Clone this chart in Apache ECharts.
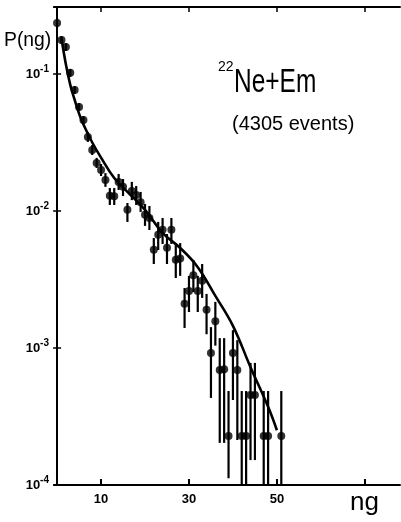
<!DOCTYPE html>
<html><head><meta charset="utf-8">
<script src="https://cdn.jsdelivr.net/npm/echarts@6/dist/echarts.min.js"></script>
<style>html,body{margin:0;padding:0;background:#fff}#c{width:401px;height:522px}</style>
</head><body><div id="c"></div>
<script>
// multiplicity n_g of each measured bin
const ng = [0,1,2,3,4,5,6,7,8,9,10,11,12,13,14,15,16,17,18,19,20,21,22,23,24,25,26,27,28,29,30,31,32,33,34,35,36,37,38,39,40,41,42,43,44,45,47,48,51];
// measured probability P(n_g)
const prob = [0.235,0.177,0.157,0.102,0.0764,0.0574,0.0461,0.0347,0.0279,0.0224,0.0199,0.0168,0.0129,0.0128,0.0163,0.0150,0.0102,0.0140,0.0131,0.0116,0.0094,0.0089,0.0052,0.0067,0.0073,0.0054,0.0073,0.0044,0.0045,0.0021,0.0026,0.0034,0.0026,0.0031,0.0019,0.00092,0.00157,0.00069,0.00070,0.000228,0.00092,0.00069,0.000228,0.000228,0.000454,0.000454,0.000228,0.000228,0.000228];
// upper end of each error bar
const errHigh = [0.2565,0.189,0.168,0.1087,0.0817,0.0614,0.0493,0.0377,0.0303,0.0244,0.0220,0.0189,0.0147,0.0147,0.0186,0.0171,0.01143,0.0163,0.0152,0.01377,0.01125,0.01087,0.00635,0.00832,0.00889,0.00679,0.00889,0.00565,0.00583,0.00274,0.00336,0.00439,0.00336,0.00410,0.00248,0.00142,0.00217,0.00118,0.00118,0.000485,0.00135,0.00114,0.000485,0.000485,0.000778,0.000778,0.000485,0.000485,0.000485];
// lower end of each error bar
const errLow = [0.2168,0.1656,0.147,0.0951,0.0714,0.0537,0.0425,0.0319,0.0256,0.0206,0.0180,0.0150,0.01106,0.01106,0.01422,0.01286,0.00832,0.0120,0.01106,0.00984,0.00778,0.00726,0.00410,0.00519,0.00574,0.00410,0.00574,0.00324,0.00336,0.00140,0.00183,0.00256,0.00183,0.00232,0.00126,0.000432,0.00104,0.000203,0.000203,0.000112,0.000417,0.000213,0.0001,0.0001,0.000152,0.000152,0.0001,0.0001,0.0001];
// theoretical curve
const curveNg = [1,2,3,4,5,6,8,10,13,16,20,24,28,32,36,40,44,48,50];
const curveP = [0.182,0.1175,0.0832,0.0646,0.0513,0.0427,0.0316,0.0245,0.0174,0.0138,0.0102,0.00692,0.00537,0.00389,0.0024,0.00145,0.000724,0.000372,0.000251];
// axis ticks
const xTickLabels = [10,30,50];
const xTicks = [10,30,50,70];

const chart = echarts.init(document.getElementById('c'), null, {renderer:'canvas'});
const FONT = '"Liberation Sans", Arial, sans-serif';
const axisLine = {show:true, lineStyle:{color:'#000', width:2}};
const option = {
  animation:false,
  backgroundColor:'#fff',
  grid:{left:54, top:7, right:1, bottom:37, containLabel:false},
  xAxis:[
    {type:'value', min:-0.7, max:78, position:'bottom', axisLine:axisLine,
     axisTick:{show:true, inside:true, length:6, customValues:xTicks, lineStyle:{color:'#000', width:2}},
     axisLabel:{customValues:xTickLabels, color:'#000', fontWeight:'bold', fontSize:13, fontFamily:FONT, margin:8},
     splitLine:{show:false}},
    {type:'value', min:-0.7, max:78, position:'top', axisLine:axisLine,
     axisTick:{show:true, inside:true, length:5, customValues:xTicks, lineStyle:{color:'#000', width:1.5}},
     axisLabel:{show:false}, splitLine:{show:false}}
  ],
  yAxis:[
    {type:'log', logBase:10, min:1e-4, max:0.308, position:'left', axisLine:axisLine,
     axisTick:{show:true, inside:true, length:4, lineStyle:{color:'#000', width:1.5}},
     axisLabel:{color:'#000', margin:5, showMaxLabel:false,
       formatter:function(v){ return '{b|10}{s|' + Math.round(Math.log10(v)) + '}'; },
       rich:{b:{fontSize:13, fontWeight:'bold', fontFamily:FONT, color:'#000'},
             s:{fontSize:10, fontWeight:'bold', fontFamily:FONT, color:'#000', padding:[0,0,9,0]}}},
     splitLine:{show:false}},
    {type:'log', logBase:10, min:1e-4, max:0.308, position:'right', axisLine:axisLine,
     axisTick:{show:true, inside:true, length:4, lineStyle:{color:'#000', width:1.5}},
     axisLabel:{show:false}, splitLine:{show:false}}
  ],
  series:[
    {type:'line', xAxisIndex:0, yAxisIndex:0, smooth:0.4, symbol:'none',
     data:curveNg.map((n,i)=>[n,curveP[i]]), lineStyle:{color:'#000', width:2.6}, z:3},
    {type:'custom', xAxisIndex:0, yAxisIndex:0, z:4,
     data:ng.map((n,i)=>[n, errLow[i], errHigh[i]]),
     renderItem:function(params, api){
       const a = api.coord([api.value(0), api.value(2)]);
       const b = api.coord([api.value(0), api.value(1)]);
       return {type:'line', shape:{x1:a[0], y1:a[1], x2:b[0], y2:b[1]}, style:{stroke:'#000', lineWidth:2.2}};
     }},
    {type:'scatter', xAxisIndex:0, yAxisIndex:0, z:5, symbol:'circle', symbolSize:8,
     data:ng.map((n,i)=>[n,prob[i]]), itemStyle:{color:'#000'}}
  ],
  graphic:[
    {type:'text', x:4, y:40, scaleX:0.92, style:{text:'P(ng)', font:'21px '+FONT, fill:'#000', textVerticalAlign:'middle'}},
    {type:'text', x:218, y:67, style:{text:'22', font:'14px '+FONT, fill:'#000', textVerticalAlign:'middle'}},
    {type:'text', x:234, y:83, scaleX:0.72, style:{text:'Ne+Em', font:'34px '+FONT, fill:'#000', textVerticalAlign:'middle'}},
    {type:'text', x:232, y:124, style:{text:'(4305 events)', font:'20px '+FONT, fill:'#000', textVerticalAlign:'middle'}},
    {type:'text', x:350, y:503, style:{text:'ng', font:'26px '+FONT, fill:'#000', textVerticalAlign:'middle'}}
  ]
};
chart.setOption(option);
</script></body></html>
